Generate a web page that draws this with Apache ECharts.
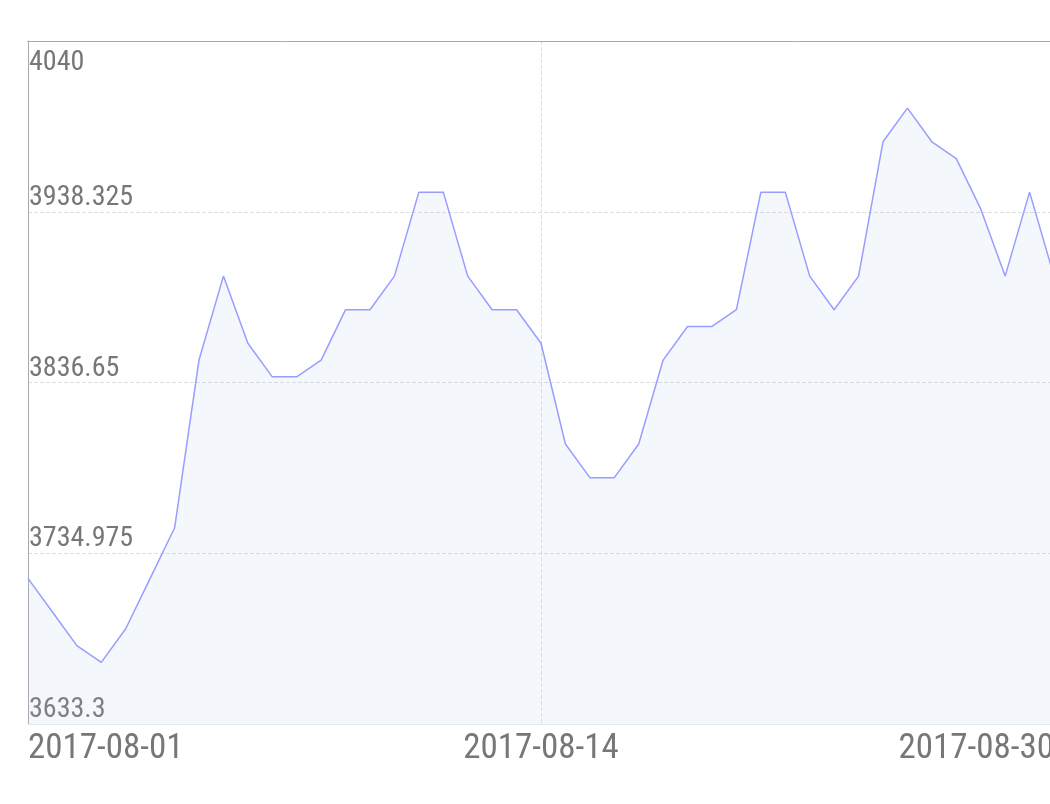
<!DOCTYPE html>
<html>
<head>
<meta charset="utf-8">
<script src="https://cdn.jsdelivr.net/npm/echarts@6/dist/echarts.min.js"></script>
<style>
html, body { margin: 0; padding: 0; background: #ffffff; overflow: hidden; }
#chart { width: 1082px; height: 804px; }
</style>
</head>
<body>
<div id="chart"></div>
<script>
// Categories (x axis)
const categories = [
  '2017-08-01 09:30', '2017-08-01 14:00', '2017-08-02 09:30', '2017-08-02 14:00',
  '2017-08-03 09:30', '2017-08-03 14:00', '2017-08-04 09:30', '2017-08-04 14:00',
  '2017-08-07 09:30', '2017-08-07 14:00', '2017-08-08 09:30', '2017-08-08 14:00',
  '2017-08-09 09:30', '2017-08-09 14:00', '2017-08-10 09:30', '2017-08-10 14:00',
  '2017-08-11 09:30', '2017-08-11 14:00', '2017-08-12 09:30', '2017-08-12 14:00',
  '2017-08-13 09:30', '2017-08-14 09:30', '2017-08-14 14:00', '2017-08-15 09:30',
  '2017-08-15 14:00', '2017-08-16 09:30', '2017-08-16 14:00', '2017-08-17 09:30',
  '2017-08-17 14:00', '2017-08-18 09:30', '2017-08-18 14:00', '2017-08-21 09:30',
  '2017-08-21 14:00', '2017-08-22 09:30', '2017-08-22 14:00', '2017-08-23 09:30',
  '2017-08-23 14:00', '2017-08-24 09:30', '2017-08-24 14:00', '2017-08-25 09:30',
  '2017-08-28 09:30', '2017-08-29 09:30', '2017-08-30 09:30'
];

// Series values
const values = [
  3720, 3700, 3680, 3670, 3690, 3720, 3750, 3850, 3900, 3860,
  3840, 3840, 3850, 3880, 3880, 3900, 3950, 3950, 3900, 3880,
  3880, 3860, 3800, 3780, 3780, 3800, 3850, 3870, 3870, 3880,
  3950, 3950, 3900, 3880, 3900, 3980, 4000, 3980, 3970, 3940,
  3900, 3950, 3900
];

// Y axis range / ticks: 3633.3, 3734.975, 3836.65, 3938.325, 4040
const yMin = 3633.3;
const yMax = 4040;
const yInterval = 101.675;
const xLabelStep = 20;

const labelFont = '"Roboto Condensed", "Liberation Sans Narrow", Roboto, sans-serif';

const chart = echarts.init(document.getElementById('chart'));
chart.setOption({
  animation: false,
  backgroundColor: '#ffffff',
  grid: { left: 28, right: 28, top: 41, bottom: 80, containLabel: false },
  xAxis: [{
    type: 'category',
    data: categories,
    boundaryGap: false,
    position: 'bottom',
    axisLine: { show: true, onZero: false, lineStyle: { color: '#e3e8f0', width: 1 } },
    axisTick: { show: false },
    axisLabel: {
      interval: xLabelStep,
      margin: 8,
      fontSize: 35,
      color: '#777777',
      fontFamily: labelFont,
      alignMinLabel: 'left',
      alignMaxLabel: 'right',
      formatter: function (v) { return v.split(' ')[0]; }
    },
    splitLine: {
      show: true,
      interval: function (idx) { return idx === 21; },
      lineStyle: { color: '#dedede', type: 'dashed', width: 1 }
    }
  }, {
    type: 'category',
    data: categories,
    boundaryGap: false,
    position: 'top',
    axisLine: { show: true, onZero: false, lineStyle: { color: '#a8a8a8', width: 1 } },
    axisTick: { show: false },
    axisLabel: { show: false },
    splitLine: { show: false }
  }],
  yAxis: {
    type: 'value',
    min: yMin,
    max: yMax,
    interval: yInterval,
    axisLine: { show: true, lineStyle: { color: '#a8a8a8', width: 1 } },
    axisTick: { show: false },
    axisLabel: {
      inside: true,
      margin: 1,
      fontSize: 28,
      color: '#777777',
      fontFamily: labelFont,
      verticalAlign: 'bottom',
      verticalAlignMaxLabel: 'top',
      padding: [8, 0, 0, 0],
      formatter: function (v) { return String(+(+v).toFixed(3)); }
    },
    splitLine: {
      show: true,
      showMinLine: false,
      showMaxLine: false,
      lineStyle: { color: '#dedede', type: 'dashed', width: 1 }
    }
  },
  series: [{
    type: 'line',
    data: values,
    xAxisIndex: 0,
    showSymbol: false,
    symbol: 'none',
    lineStyle: { color: '#989dff', width: 1.5 },
    areaStyle: { color: 'rgba(170, 200, 235, 0.18)', origin: 'start' },
    itemStyle: { color: '#989dff' }
  }]
});
</script>
</body>
</html>
